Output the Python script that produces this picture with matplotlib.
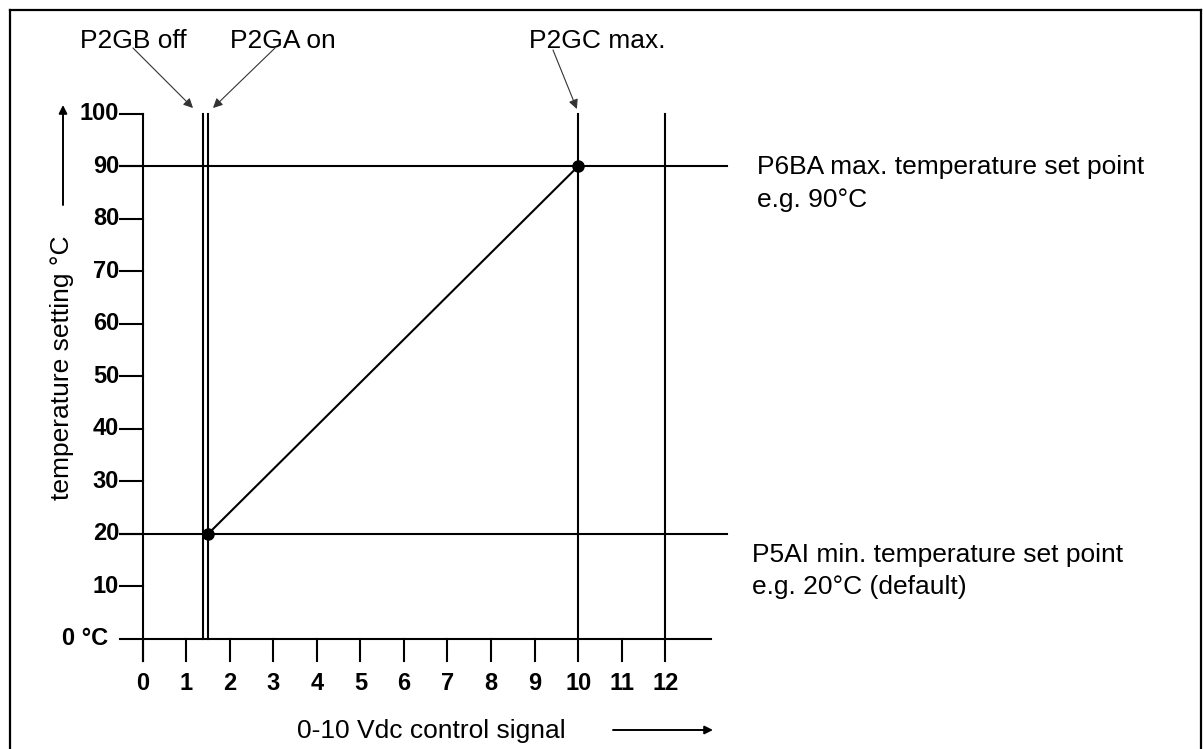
import matplotlib
matplotlib.use("Agg")
import matplotlib.pyplot as plt
from matplotlib.lines import Line2D

plt.rcParams["font.family"] = ["Liberation Sans", "DejaVu Sans"]

# Data
x_ticks = [0, 1, 2, 3, 4, 5, 6, 7, 8, 9, 10, 11, 12]
y_ticks = [10, 20, 30, 40, 50, 60, 70, 80, 90, 100]
x_max_axis = 13.04
y_top = 100

p2gb_off = 1.38     # V, heating off
p2ga_on = 1.51      # V, heating on
p2gc_max = 10.0     # V, max signal
x_extra = 12.0      # extra vertical line
t_min = 20          # P5AI min set point
t_max = 90          # P6BA max set point
line_end = 13.42    # set point lines run out to here

curve_x = [p2ga_on, p2gc_max]
curve_y = [t_min, t_max]

max_text = ["P6BA max. temperature set point", "e.g. 90°C"]
min_text = ["P5AI min. temperature set point", "e.g. 20°C (default)"]

W, H = 1203, 749
# pixel -> data mapping (origin at pixel 142.5, 638.7)
X0, SX = 142.5, 43.57
Y0, SY = 638.7, 5.25


def px(p):
    return (p - X0) / SX


def py(p):
    return (Y0 - p) / SY


fig = plt.figure(figsize=(W / 100, H / 100), dpi=100)
ax = fig.add_axes([0, 0, 1, 1])
ax.set_xlim(px(0), px(W))
ax.set_ylim(py(H), py(0))
ax.axis("off")

lw = 1.5
fs = 19
tick_left = px(120)
tick_bot = py(660.7)

# axes
ax.plot([tick_left, x_max_axis], [0, 0], color="black", lw=lw)
ax.plot([0, 0], [tick_bot, y_top], color="black", lw=lw)

# y ticks + labels
for t in y_ticks:
    ax.plot([tick_left, 0], [t, t], color="black", lw=lw)
    ax.text(px(119), t, str(t), ha="right", va="center",
            fontsize=17, fontweight="bold")
ax.text(px(108), 0, "0 °C", ha="right", va="center",
        fontsize=17, fontweight="bold")

# x ticks + labels
for t in x_ticks:
    ax.plot([t, t], [tick_bot, 0], color="black", lw=lw)
    ax.text(t, py(683), str(t), ha="center", va="center",
            fontsize=17, fontweight="bold")

# set point lines
for t in [t_min, t_max]:
    ax.plot([tick_left, line_end], [t, t], color="black", lw=lw)

# vertical lines
for v in [p2gb_off, p2ga_on, p2gc_max, x_extra]:
    ax.plot([v, v], [0, y_top], color="black", lw=lw)

# characteristic
ax.plot(curve_x, curve_y, color="black", lw=lw)
ax.plot(curve_x, curve_y, "o", color="black", ms=8)

# top labels with arrows
arrow = dict(arrowstyle="-|>", lw=0.8, color="#333333",
             mutation_scale=14, shrinkA=0, shrinkB=0)
ax.text(px(80), py(48), "P2GB off", ha="left", va="baseline", fontsize=fs)
ax.annotate("", xy=(px(193), py(108)), xytext=(px(133), py(48)),
            arrowprops=arrow)
ax.text(px(230), py(48), "P2GA on", ha="left", va="baseline", fontsize=fs)
ax.annotate("", xy=(px(213), py(108)), xytext=(px(275), py(48)),
            arrowprops=arrow)
ax.text(px(597), py(48), "P2GC max.", ha="center", va="baseline",
        fontsize=fs)
ax.annotate("", xy=(p2gc_max - 0.03, py(109)), xytext=(px(553), py(50)),
            arrowprops=arrow)

# right labels
for i, s in enumerate(max_text):
    ax.text(px(757), py(174 + 33 * i), s, ha="left", va="baseline",
            fontsize=fs)
for i, s in enumerate(min_text):
    ax.text(px(752), py(562 + 32 * i), s, ha="left", va="baseline",
            fontsize=fs)

# axis titles
ax.text(px(62), py(368), "temperature setting °C", rotation=90,
        ha="center", va="center", fontsize=fs)
ax.annotate("", xy=(px(63), py(105)), xytext=(px(63), py(205)),
            arrowprops=dict(arrowstyle="-|>", lw=1.4, color="black",
                            mutation_scale=12, shrinkA=0, shrinkB=0))
ax.text(px(297), py(738), "0-10 Vdc control signal", ha="left",
        va="baseline", fontsize=fs)
ax.annotate("", xy=(px(713), py(730)), xytext=(px(613), py(730)),
            arrowprops=dict(arrowstyle="-|>", lw=1.4, color="black",
                            mutation_scale=12, shrinkA=0, shrinkB=0))

# frame around the figure
for (xa, ya), (xb, yb) in [((9.5, 9.5), (9.5, H)), ((9.5, 9.5), (1200.5, 9.5)),
                           ((1200.5, 9.5), (1200.5, H))]:
    fig.add_artist(Line2D([xa / W, xb / W], [1 - ya / H, 1 - yb / H],
                          color="black", lw=1.6))

fig.savefig("out.png", dpi=100)
